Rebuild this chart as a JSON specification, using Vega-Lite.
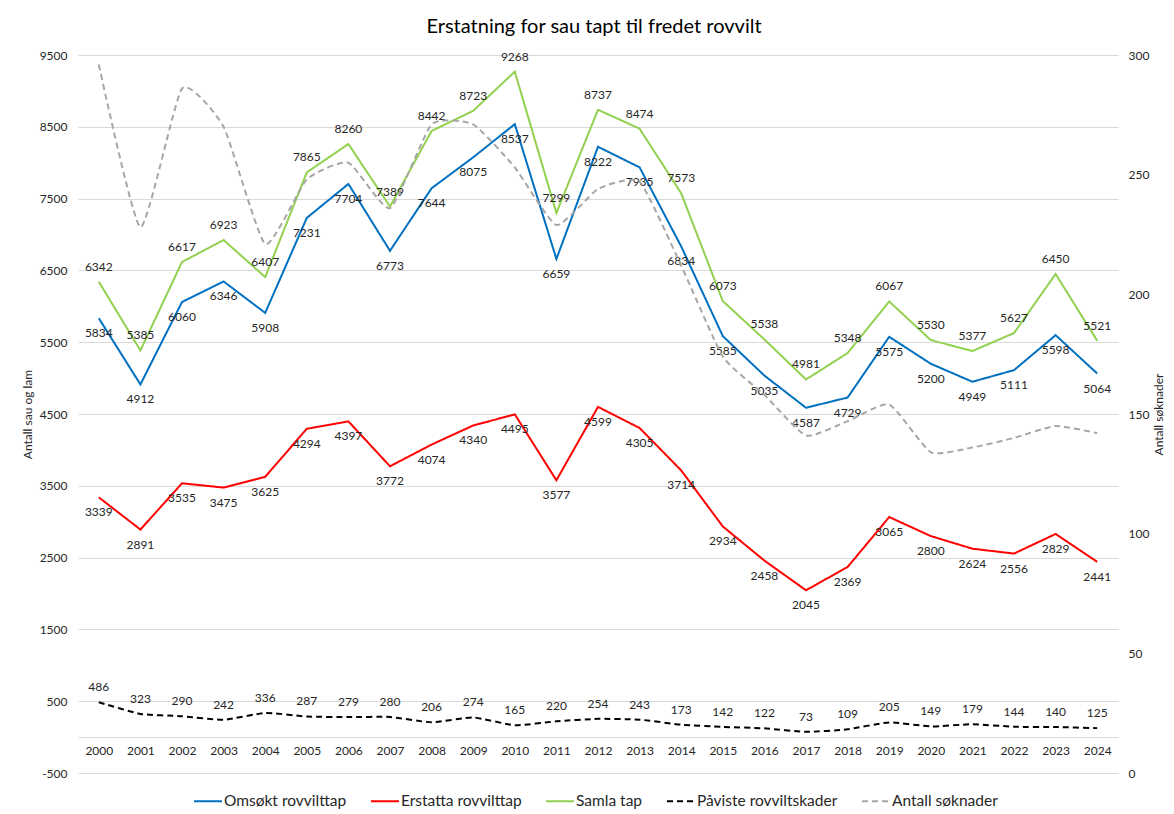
{
  "$schema": "https://vega.github.io/schema/vega-lite/v6.json",
  "width": 1040,
  "height": 718,
  "autosize": "none",
  "padding": {"left": 78, "top": 55, "right": 56, "bottom": 41},
  "background": "white",
  "config": {
    "font": "Lato",
    "view": {"stroke": null},
    "axis": {"labelFont": "Lato", "titleFont": "Lato", "labelColor": "#262626", "titleColor": "#262626", "titleFontWeight": "normal"},
    "legend": {"labelFont": "Lato"}
  },
  "title": {
    "text": "Erstatning for sau tapt til fredet rovvilt",
    "fontSize": 20,
    "fontWeight": "normal",
    "color": "#000000",
    "offset": 12,
    "anchor": "middle",
    "dx": -4
  },
  "data": {
    "values": [
      {"year": "2000", "series": "Omsøkt rovvilttap", "value": 5834},
      {"year": "2001", "series": "Omsøkt rovvilttap", "value": 4912},
      {"year": "2002", "series": "Omsøkt rovvilttap", "value": 6060},
      {"year": "2003", "series": "Omsøkt rovvilttap", "value": 6346},
      {"year": "2004", "series": "Omsøkt rovvilttap", "value": 5908},
      {"year": "2005", "series": "Omsøkt rovvilttap", "value": 7231},
      {"year": "2006", "series": "Omsøkt rovvilttap", "value": 7704},
      {"year": "2007", "series": "Omsøkt rovvilttap", "value": 6773},
      {"year": "2008", "series": "Omsøkt rovvilttap", "value": 7644},
      {"year": "2009", "series": "Omsøkt rovvilttap", "value": 8075},
      {"year": "2010", "series": "Omsøkt rovvilttap", "value": 8537},
      {"year": "2011", "series": "Omsøkt rovvilttap", "value": 6659},
      {"year": "2012", "series": "Omsøkt rovvilttap", "value": 8222},
      {"year": "2013", "series": "Omsøkt rovvilttap", "value": 7935},
      {"year": "2014", "series": "Omsøkt rovvilttap", "value": 6834},
      {"year": "2015", "series": "Omsøkt rovvilttap", "value": 5585},
      {"year": "2016", "series": "Omsøkt rovvilttap", "value": 5035},
      {"year": "2017", "series": "Omsøkt rovvilttap", "value": 4587},
      {"year": "2018", "series": "Omsøkt rovvilttap", "value": 4729},
      {"year": "2019", "series": "Omsøkt rovvilttap", "value": 5575},
      {"year": "2020", "series": "Omsøkt rovvilttap", "value": 5200},
      {"year": "2021", "series": "Omsøkt rovvilttap", "value": 4949},
      {"year": "2022", "series": "Omsøkt rovvilttap", "value": 5111},
      {"year": "2023", "series": "Omsøkt rovvilttap", "value": 5598},
      {"year": "2024", "series": "Omsøkt rovvilttap", "value": 5064},
      {"year": "2000", "series": "Erstatta rovvilttap", "value": 3339},
      {"year": "2001", "series": "Erstatta rovvilttap", "value": 2891},
      {"year": "2002", "series": "Erstatta rovvilttap", "value": 3535},
      {"year": "2003", "series": "Erstatta rovvilttap", "value": 3475},
      {"year": "2004", "series": "Erstatta rovvilttap", "value": 3625},
      {"year": "2005", "series": "Erstatta rovvilttap", "value": 4294},
      {"year": "2006", "series": "Erstatta rovvilttap", "value": 4397},
      {"year": "2007", "series": "Erstatta rovvilttap", "value": 3772},
      {"year": "2008", "series": "Erstatta rovvilttap", "value": 4074},
      {"year": "2009", "series": "Erstatta rovvilttap", "value": 4340},
      {"year": "2010", "series": "Erstatta rovvilttap", "value": 4495},
      {"year": "2011", "series": "Erstatta rovvilttap", "value": 3577},
      {"year": "2012", "series": "Erstatta rovvilttap", "value": 4599},
      {"year": "2013", "series": "Erstatta rovvilttap", "value": 4305},
      {"year": "2014", "series": "Erstatta rovvilttap", "value": 3714},
      {"year": "2015", "series": "Erstatta rovvilttap", "value": 2934},
      {"year": "2016", "series": "Erstatta rovvilttap", "value": 2458},
      {"year": "2017", "series": "Erstatta rovvilttap", "value": 2045},
      {"year": "2018", "series": "Erstatta rovvilttap", "value": 2369},
      {"year": "2019", "series": "Erstatta rovvilttap", "value": 3065},
      {"year": "2020", "series": "Erstatta rovvilttap", "value": 2800},
      {"year": "2021", "series": "Erstatta rovvilttap", "value": 2624},
      {"year": "2022", "series": "Erstatta rovvilttap", "value": 2556},
      {"year": "2023", "series": "Erstatta rovvilttap", "value": 2829},
      {"year": "2024", "series": "Erstatta rovvilttap", "value": 2441},
      {"year": "2000", "series": "Samla tap", "value": 6342},
      {"year": "2001", "series": "Samla tap", "value": 5385},
      {"year": "2002", "series": "Samla tap", "value": 6617},
      {"year": "2003", "series": "Samla tap", "value": 6923},
      {"year": "2004", "series": "Samla tap", "value": 6407},
      {"year": "2005", "series": "Samla tap", "value": 7865},
      {"year": "2006", "series": "Samla tap", "value": 8260},
      {"year": "2007", "series": "Samla tap", "value": 7389},
      {"year": "2008", "series": "Samla tap", "value": 8442},
      {"year": "2009", "series": "Samla tap", "value": 8723},
      {"year": "2010", "series": "Samla tap", "value": 9268},
      {"year": "2011", "series": "Samla tap", "value": 7299},
      {"year": "2012", "series": "Samla tap", "value": 8737},
      {"year": "2013", "series": "Samla tap", "value": 8474},
      {"year": "2014", "series": "Samla tap", "value": 7573},
      {"year": "2015", "series": "Samla tap", "value": 6073},
      {"year": "2016", "series": "Samla tap", "value": 5538},
      {"year": "2017", "series": "Samla tap", "value": 4981},
      {"year": "2018", "series": "Samla tap", "value": 5348},
      {"year": "2019", "series": "Samla tap", "value": 6067},
      {"year": "2020", "series": "Samla tap", "value": 5530},
      {"year": "2021", "series": "Samla tap", "value": 5377},
      {"year": "2022", "series": "Samla tap", "value": 5627},
      {"year": "2023", "series": "Samla tap", "value": 6450},
      {"year": "2024", "series": "Samla tap", "value": 5521},
      {"year": "2000", "series": "Påviste rovviltskader", "value": 486},
      {"year": "2001", "series": "Påviste rovviltskader", "value": 323},
      {"year": "2002", "series": "Påviste rovviltskader", "value": 290},
      {"year": "2003", "series": "Påviste rovviltskader", "value": 242},
      {"year": "2004", "series": "Påviste rovviltskader", "value": 336},
      {"year": "2005", "series": "Påviste rovviltskader", "value": 287},
      {"year": "2006", "series": "Påviste rovviltskader", "value": 279},
      {"year": "2007", "series": "Påviste rovviltskader", "value": 280},
      {"year": "2008", "series": "Påviste rovviltskader", "value": 206},
      {"year": "2009", "series": "Påviste rovviltskader", "value": 274},
      {"year": "2010", "series": "Påviste rovviltskader", "value": 165},
      {"year": "2011", "series": "Påviste rovviltskader", "value": 220},
      {"year": "2012", "series": "Påviste rovviltskader", "value": 254},
      {"year": "2013", "series": "Påviste rovviltskader", "value": 243},
      {"year": "2014", "series": "Påviste rovviltskader", "value": 173},
      {"year": "2015", "series": "Påviste rovviltskader", "value": 142},
      {"year": "2016", "series": "Påviste rovviltskader", "value": 122},
      {"year": "2017", "series": "Påviste rovviltskader", "value": 73},
      {"year": "2018", "series": "Påviste rovviltskader", "value": 109},
      {"year": "2019", "series": "Påviste rovviltskader", "value": 205},
      {"year": "2020", "series": "Påviste rovviltskader", "value": 149},
      {"year": "2021", "series": "Påviste rovviltskader", "value": 179},
      {"year": "2022", "series": "Påviste rovviltskader", "value": 144},
      {"year": "2023", "series": "Påviste rovviltskader", "value": 140},
      {"year": "2024", "series": "Påviste rovviltskader", "value": 125},
      {"year": "2000", "series": "Antall søknader", "value": 296},
      {"year": "2001", "series": "Antall søknader", "value": 228},
      {"year": "2002", "series": "Antall søknader", "value": 286},
      {"year": "2003", "series": "Antall søknader", "value": 270},
      {"year": "2004", "series": "Antall søknader", "value": 221},
      {"year": "2005", "series": "Antall søknader", "value": 248},
      {"year": "2006", "series": "Antall søknader", "value": 255},
      {"year": "2007", "series": "Antall søknader", "value": 236},
      {"year": "2008", "series": "Antall søknader", "value": 271},
      {"year": "2009", "series": "Antall søknader", "value": 271},
      {"year": "2010", "series": "Antall søknader", "value": 253},
      {"year": "2011", "series": "Antall søknader", "value": 229},
      {"year": "2012", "series": "Antall søknader", "value": 244},
      {"year": "2013", "series": "Antall søknader", "value": 247},
      {"year": "2014", "series": "Antall søknader", "value": 212},
      {"year": "2015", "series": "Antall søknader", "value": 174},
      {"year": "2016", "series": "Antall søknader", "value": 158},
      {"year": "2017", "series": "Antall søknader", "value": 141},
      {"year": "2018", "series": "Antall søknader", "value": 147},
      {"year": "2019", "series": "Antall søknader", "value": 154},
      {"year": "2020", "series": "Antall søknader", "value": 134},
      {"year": "2021", "series": "Antall søknader", "value": 136},
      {"year": "2022", "series": "Antall søknader", "value": 140},
      {"year": "2023", "series": "Antall søknader", "value": 145},
      {"year": "2024", "series": "Antall søknader", "value": 142}
    ]
  },
  "encoding": {
    "x": {
      "field": "year",
      "type": "ordinal",
      "sort": null,
      "scale": {"type": "point", "padding": 0.5},
      "axis": {
        "title": null,
        "labelAngle": 0,
        "grid": false,
        "ticks": false,
        "domain": true,
        "domainColor": "#d9d9d9",
        "domainWidth": 1,
        "offset": -36,
        "labelPadding": 8,
        "labelFontSize": 12
      }
    }
  },
  "layer": [
    {
      "encoding": {
        "y": {
          "field": "value",
          "type": "quantitative",
          "scale": {"domain": [-500, 9500], "nice": false, "zero": false},
          "axis": {
            "title": "Antall sau og lam",
            "titleFontSize": 12,
            "titlePadding": 5,
            "values": [-500, 500, 1500, 2500, 3500, 4500, 5500, 6500, 7500, 8500, 9500],
            "labelExpr": "'' + datum.value",
            "labelFontSize": 12,
            "labelPadding": 11,
            "ticks": false,
            "domain": false,
            "grid": true,
            "gridColor": "#d9d9d9",
            "gridWidth": 1
          }
        }
      },
      "layer": [
        {
          "transform": [{"filter": {"field": "series", "oneOf": ["Omsøkt rovvilttap", "Erstatta rovvilttap", "Samla tap"]}}],
          "mark": {"type": "line", "strokeWidth": 2, "interpolate": "linear"},
          "encoding": {
            "color": {"field": "series", "type": "nominal", "title": null,
              "scale": {"domain": ["Omsøkt rovvilttap", "Erstatta rovvilttap", "Samla tap", "Påviste rovviltskader", "Antall søknader"],
                        "range": ["#0070C0", "#FF0000", "#92D050", "#000000", "#A6A6A6"]},
              "legend": {"orient": "none", "legendX": 115, "legendY": 731, "direction": "horizontal", "symbolType": "stroke", "symbolSize": 784, "symbolStrokeWidth": 2,
                         "labelFontSize": 15.5, "labelColor": "#262626", "columnPadding": 20, "labelOffset": 1}},
            "strokeDash": {"field": "series", "type": "nominal", "title": null,
              "scale": {"domain": ["Omsøkt rovvilttap", "Erstatta rovvilttap", "Samla tap", "Påviste rovviltskader", "Antall søknader"],
                        "range": [[1, 0], [1, 0], [1, 0], [6, 4], [6, 4]]}}
          }
        },
        {
          "transform": [{"filter": {"field": "series", "equal": "Påviste rovviltskader"}}],
          "mark": {"type": "line", "strokeWidth": 2, "interpolate": "cardinal", "tension": 0.5},
          "encoding": {
            "color": {"field": "series", "type": "nominal", "title": null},
            "strokeDash": {"field": "series", "type": "nominal", "title": null}
          }
        },
        {
          "transform": [{"filter": {"field": "series", "oneOf": ["Omsøkt rovvilttap", "Erstatta rovvilttap"]}}],
          "mark": {"type": "text", "dy": 15, "fontSize": 12, "color": "#262626", "baseline": "middle"},
          "encoding": {"text": {"field": "value", "type": "quantitative", "format": "d"}}
        },
        {
          "transform": [{"filter": {"field": "series", "oneOf": ["Samla tap", "Påviste rovviltskader"]}}],
          "mark": {"type": "text", "dy": -15, "fontSize": 12, "color": "#262626", "baseline": "middle"},
          "encoding": {"text": {"field": "value", "type": "quantitative", "format": "d"}}
        }
      ]
    },
    {
      "transform": [{"filter": {"field": "series", "equal": "Antall søknader"}}],
      "mark": {"type": "line", "strokeWidth": 2, "interpolate": "cardinal", "tension": 0.5},
      "encoding": {
        "y": {
          "field": "value",
          "type": "quantitative",
          "scale": {"domain": [0, 300], "nice": false, "zero": false},
          "axis": {
            "orient": "right",
            "title": "Antall søknader",
            "titleFontSize": 12,
            "titleAngle": 270,
            "titlePadding": 17,
            "values": [0, 50, 100, 150, 200, 250, 300],
            "labelFontSize": 12,
            "labelPadding": 10,
            "ticks": false,
            "domain": false,
            "grid": false
          }
        },
        "color": {"field": "series", "type": "nominal", "title": null},
        "strokeDash": {"field": "series", "type": "nominal", "title": null}
      }
    }
  ],
  "resolve": {"scale": {"y": "independent"}}
}
